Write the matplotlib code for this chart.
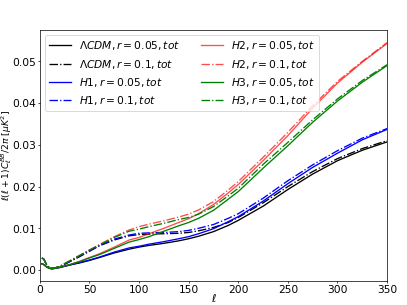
import numpy as np
import matplotlib
matplotlib.use('Agg')
import matplotlib.pyplot as plt
from matplotlib import rcParams

rcParams.update({'font.size': 12})

ell = [2, 4, 6, 8, 10, 12, 15, 20, 30, 40, 50, 60, 75, 90, 100, 110, 125, 140, 150,
       160, 175, 190, 200, 225, 250, 275, 300, 325, 350]

# l(l+1)C_l^BB/2pi [muK^2], total spectra
lcdm_005 = [0.0015, 0.0013, 0.0009, 0.0006, 0.0004, 0.0003, 0.0004, 0.0006, 0.0012, 0.0017,
            0.0023, 0.0030, 0.0041, 0.0050, 0.0055, 0.0059, 0.0064, 0.0070, 0.0075,
            0.0081, 0.0092, 0.0107, 0.0119, 0.0153, 0.0193, 0.0230, 0.0262, 0.0287, 0.0307]
lcdm_01 = [0.0029, 0.0026, 0.0016, 0.0009, 0.0005, 0.0004, 0.0005, 0.0008, 0.0020, 0.0032,
           0.0045, 0.0058, 0.0072, 0.0082, 0.0085, 0.0086, 0.0087, 0.0088, 0.0090,
           0.0094, 0.0102, 0.0114, 0.0126, 0.0161, 0.0200, 0.0236, 0.0267, 0.0291, 0.0310]
h1_005 = [0.0015, 0.0013, 0.0009, 0.0006, 0.0004, 0.0003, 0.0004, 0.0006, 0.0012, 0.0018,
          0.0024, 0.0031, 0.0043, 0.0053, 0.0057, 0.0062, 0.0068, 0.0075, 0.0080,
          0.0087, 0.0099, 0.0116, 0.0128, 0.0165, 0.0207, 0.0246, 0.0280, 0.0312, 0.0337]
h1_01 = [0.0029, 0.0026, 0.0016, 0.0009, 0.0005, 0.0004, 0.0005, 0.0008, 0.0020, 0.0033,
         0.0046, 0.0059, 0.0074, 0.0084, 0.0088, 0.0089, 0.0090, 0.0092, 0.0095,
         0.0100, 0.0109, 0.0124, 0.0135, 0.0172, 0.0214, 0.0252, 0.0286, 0.0316, 0.0339]
h2_005 = [0.0015, 0.0013, 0.0009, 0.0006, 0.0004, 0.0003, 0.0004, 0.0007, 0.0013, 0.0021,
          0.0030, 0.0039, 0.0055, 0.0072, 0.0078, 0.0087, 0.0100, 0.0114, 0.0123,
          0.0135, 0.0157, 0.0185, 0.0205, 0.0262, 0.0322, 0.0388, 0.0448, 0.0498, 0.0543]
h2_01 = [0.0029, 0.0026, 0.0016, 0.0009, 0.0005, 0.0004, 0.0005, 0.0009, 0.0022, 0.0035,
         0.0048, 0.0061, 0.0080, 0.0096, 0.0104, 0.0110, 0.0118, 0.0127, 0.0134,
         0.0144, 0.0164, 0.0192, 0.0212, 0.0270, 0.0330, 0.0394, 0.0452, 0.0500, 0.0545]
h3_005 = [0.0015, 0.0013, 0.0009, 0.0006, 0.0004, 0.0003, 0.0004, 0.0007, 0.0013, 0.0020,
          0.0029, 0.0037, 0.0052, 0.0067, 0.0073, 0.0080, 0.0093, 0.0106, 0.0114,
          0.0124, 0.0143, 0.0170, 0.0188, 0.0244, 0.0298, 0.0354, 0.0405, 0.0450, 0.0490]
h3_01 = [0.0029, 0.0026, 0.0016, 0.0009, 0.0005, 0.0004, 0.0005, 0.0009, 0.0022, 0.0035,
         0.0048, 0.0060, 0.0078, 0.0093, 0.0098, 0.0104, 0.0112, 0.0121, 0.0126,
         0.0134, 0.0152, 0.0178, 0.0196, 0.0253, 0.0306, 0.0360, 0.0410, 0.0454, 0.0492]

fig = plt.figure(figsize=(6.4, 4.8), dpi=63.6)
ax = fig.add_axes([0.098, 0.079, 0.853, 0.823])

ax.plot(ell, lcdm_005, '-', color='k', lw=1.5, label=r'$\Lambda CDM, r=0.05, tot$')
ax.plot(ell, lcdm_01, '-.', color='k', lw=1.5, label=r'$\Lambda CDM, r=0.1, tot$')
ax.plot(ell, h1_005, '-', color='b', lw=1.5, label=r'$H1, r=0.05, tot$')
ax.plot(ell, h1_01, '-.', color='b', lw=1.5, label=r'$H1, r=0.1, tot$')
ax.plot(ell, h2_005, '-', color='r', lw=1.5, alpha=0.7, label=r'$H2, r=0.05, tot$')
ax.plot(ell, h2_01, '-.', color='r', lw=1.5, alpha=0.7, label=r'$H2, r=0.1, tot$')
ax.plot(ell, h3_005, '-', color='g', lw=1.5, label=r'$H3, r=0.05, tot$')
ax.plot(ell, h3_01, '-.', color='g', lw=1.5, label=r'$H3, r=0.1, tot$')

ax.set_xlim([0, 350])
ax.set_ylim([-0.0026, 0.0576])
ax.tick_params(axis='both', length=2.5, pad=1.5)
ax.set_xlabel(r'$\ell$')
ax.set_ylabel(r'$\ell(\ell+1)C_{\ell}^{BB}/2\pi\ [\mu K^2]$', fontsize=10.5)
ax.xaxis.set_label_coords(0.5, -0.044)
ax.yaxis.set_label_coords(-0.074, 0.5)
ax.legend(loc='upper left', ncol=2)

fig.savefig('out.png', dpi=63.6)
